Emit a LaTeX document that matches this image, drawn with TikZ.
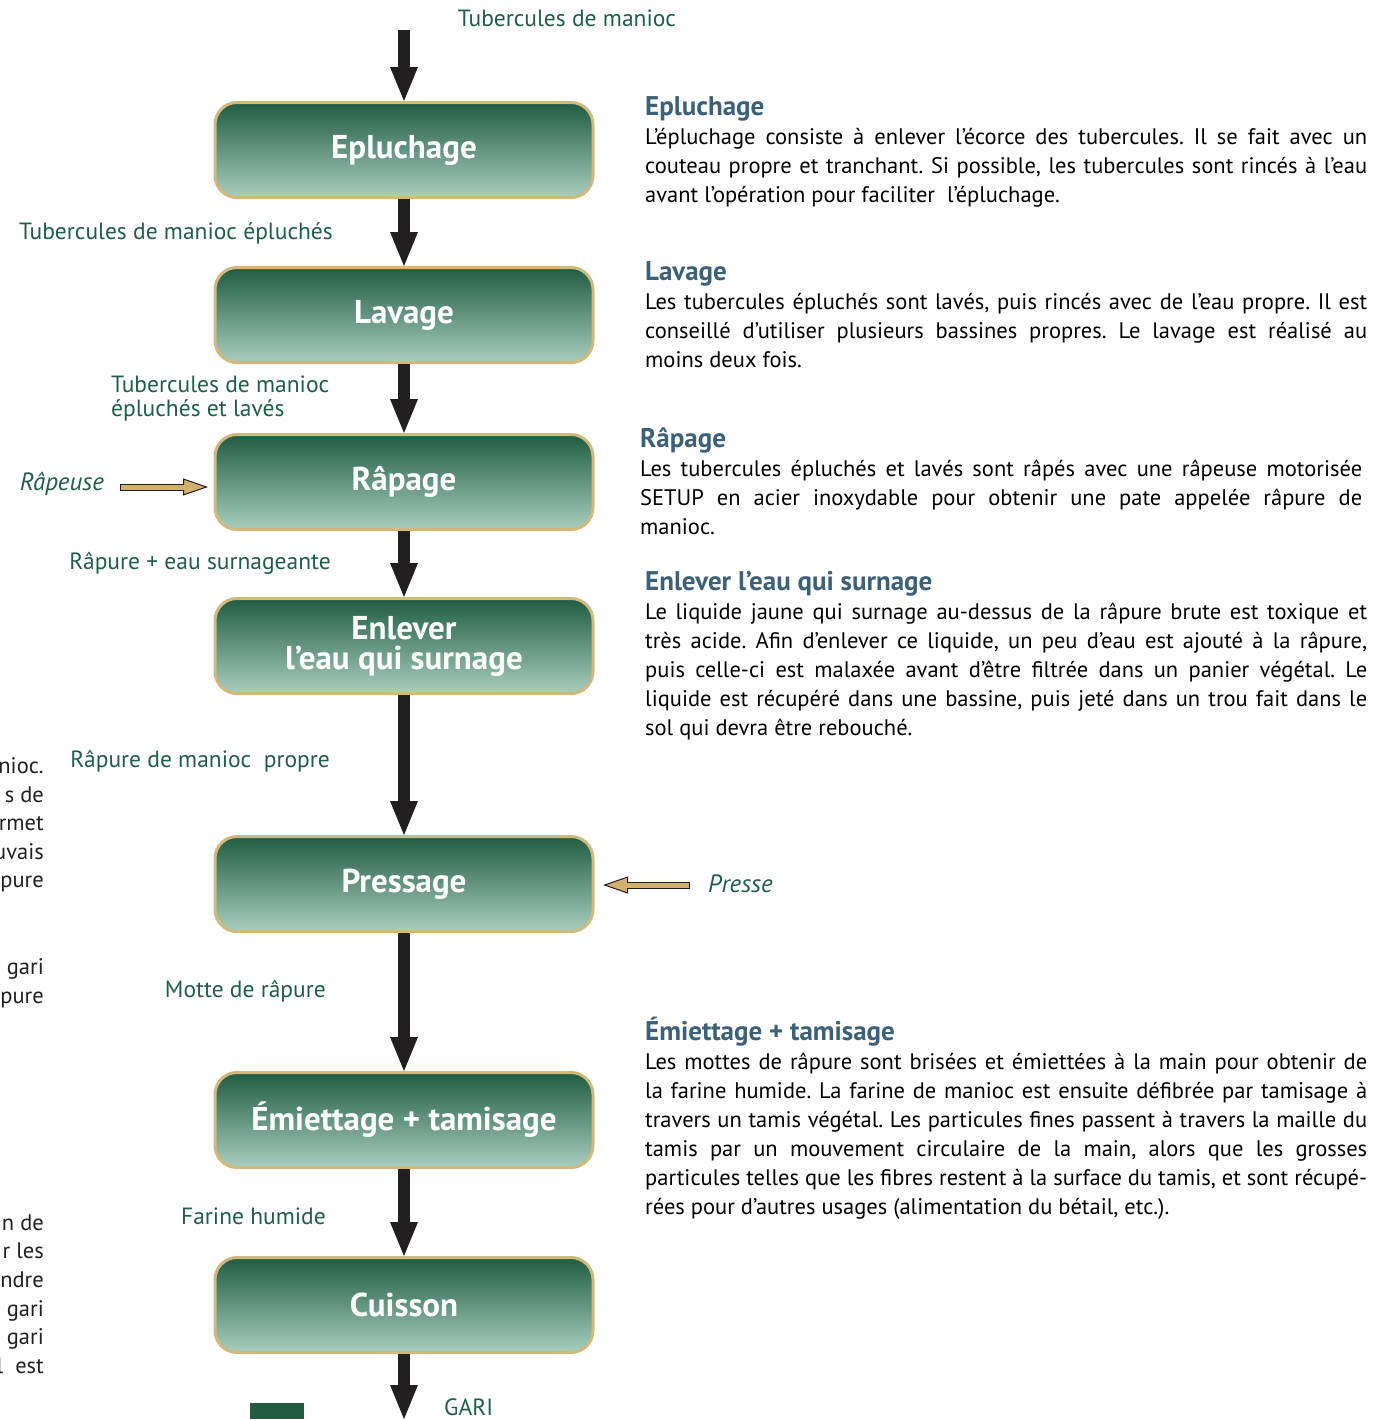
\documentclass[tikz,border=0pt]{standalone}
\usepackage{fontspec}
\setmainfont{PT Sans}
\usetikzlibrary{arrows.meta,positioning,calc}

\definecolor{boxtop}{HTML}{1F5C42}
\definecolor{boxbot}{HTML}{A9CEBE}
\definecolor{boxline}{HTML}{D3B87C}
\definecolor{labgreen}{HTML}{1F5F45}
\definecolor{headblue}{HTML}{3B6079}
\definecolor{tanfill}{HTML}{D2B06E}
\definecolor{ink}{HTML}{231F20}

\tikzset{
  stepbox/.style={rounded corners=22pt, draw=boxline, line width=3pt,
    top color=boxtop, bottom color=boxbot, minimum width=378pt,
    minimum height=95pt, text=white, align=center,
    font=\fontsize{33}{30}\selectfont\bfseries},
  flow/.style={draw=ink, line width=12pt,
    -{Triangle[length=34pt,width=28pt,line width=0pt]}},
  lab/.style={text=labgreen, inner sep=0pt, font=\fontsize{23.5}{24}\selectfont},
  desc/.style={text width=722pt, align=justify, inner sep=0pt, anchor=base west,
    font=\fontsize{22.5}{29}\selectfont},
  frag/.style={text=ink, inner sep=0pt, align=right, anchor=east,
    font=\fontsize{22.5}{28.6}\selectfont},
}
\newcommand\stephead[1]{{\fontsize{27}{29}\selectfont\bfseries\color{headblue}#1}\\}
\newcommand\tanarrow[2]{%
  \draw[ink, line width=1pt, -{Triangle[length=25pt,width=17pt,fill=tanfill,line width=1pt]}] (#1) -- (#2);
  \draw[ink, line width=7pt, shorten >=24pt] (#1) -- (#2);
  \draw[tanfill, line width=5pt, shorten >=23pt, shorten <=1pt] (#1) -- (#2);
}

\begin{document}
\frenchspacing
\begin{tikzpicture}[x=1pt, y=-1pt]
  \useasboundingbox (0,0) rectangle (1379,1419);

  % etapes
  \node[stepbox] (epl) at (404,150) {Epluchage};
  \node[stepbox] (lav) at (404,315) {Lavage};
  \node[stepbox] (rap) at (404,482) {Râpage};
  \node[stepbox] (enl) at (404,646) {Enlever\\l’eau qui surnage};
  \node[stepbox] (pre) at (404,884) {Pressage};
  \node[stepbox] (emi) at (404,1120) {Émiettage + tamisage};
  \node[stepbox] (cui) at (404,1305) {Cuisson};

  \coordinate (in) at (404,30);
  \coordinate (out) at (404,1419);

  % fleches
  \draw[flow] (in) -- (epl.north);
  \draw[flow] (epl) -- (lav);
  \draw[flow] (lav) -- (rap);
  \draw[flow] (rap) -- (enl);
  \draw[flow] (enl) -- (pre);
  \draw[flow] (pre) -- (emi);
  \draw[flow] (emi) -- (cui);
  \draw[flow] (cui) -- (out);

  % produits
  \node[lab] (tub) at (567,18) {Tubercules de manioc};
  \node[lab, anchor=east] (tubep) at (333,233) {Tubercules de manioc épluchés};
  \node[lab, anchor=west, align=left] (tubla) at (111,399) {Tubercules de manioc\\épluchés et lavés};
  \node[lab, anchor=east] (rapeau) at (331,563) {Râpure + eau surnageante};
  \node[lab, anchor=east] (rapro) at (330,761) {Râpure de manioc\ \ propre};
  \node[lab, anchor=east] (motte) at (326,991) {Motte de râpure};
  \node[lab, anchor=east] (farine) at (326,1216) {Farine humide};
  \node[lab, anchor=west] (gari) at (444,1407) {GARI};

  % equipements
  \node[lab, anchor=east, font=\fontsize{25}{26}\selectfont\itshape] (rapeuse) at (104,484) {Râpeuse};
  \node[lab, anchor=west, font=\fontsize{25}{26}\selectfont\itshape] (presse) at (708,884) {Presse};
  \coordinate (rpA) at (120,487);
  \coordinate (rpB) at (208,487);
  \coordinate (prA) at (690,885);
  \coordinate (prB) at (603,885);
  \tanarrow{rpA}{rpB}
  \tanarrow{prA}{prB}

  \fill[boxtop] (250,1403) rectangle (304,1419);

  % descriptions
  \node[desc] (depl) at (645,115) {\stephead{Epluchage}%
    L’épluchage consiste à enlever l’écorce des tubercules. Il se fait avec un\linebreak
    couteau propre et tranchant. Si possible, les tubercules sont rincés à l’eau\linebreak
    avant l’opération pour faciliter\ \ l’épluchage.};
  \node[desc] (dlav) at (645,280) {\stephead{Lavage}%
    Les tubercules épluchés sont lavés, puis rincés avec de l’eau propre. Il est\linebreak
    conseillé d’utiliser plusieurs bassines propres. Le lavage est réalisé au\linebreak
    moins deux fois.};
  \node[desc] (drap) at (640,447) {\stephead{Râpage}%
    Les tubercules épluchés et lavés sont râpés avec une râpeuse motorisée\linebreak
    SETUP en acier inoxydable pour obtenir une pate appelée râpure de\linebreak
    manioc.};
  \node[desc] (denl) at (645,590) {\stephead{Enlever l’eau qui surnage}%
    Le liquide jaune qui surnage au-dessus de la râpure brute est toxique et\linebreak
    très acide. Afin d’enlever ce liquide, un peu d’eau est ajouté à la râpure,\linebreak
    puis celle-ci est malaxée avant d’être filtrée dans un panier végétal. Le\linebreak
    liquide est récupéré dans une bassine, puis jeté dans un trou fait dans le\linebreak
    sol qui devra être rebouché.};
  \node[desc] (demi) at (645,1040) {\stephead{Émiettage + tamisage}%
    Les mottes de râpure sont brisées et émiettées à la main pour obtenir de\linebreak
    la farine humide. La farine de manioc est ensuite défibrée par tamisage à\linebreak
    travers un tamis végétal. Les particules fines passent à travers la maille du\linebreak
    tamis par un mouvement circulaire de la main, alors que les grosses\linebreak
    particules telles que les fibres restent à la surface du tamis, et sont récupé-\linebreak
    rées pour d’autres usages (alimentation du bétail, etc.).};

  % texte coupe a gauche
  \node[frag] (fragA) at (44,825) {nioc.\\s de\\rmet\\uvais\\pure};
  \node[frag] (fragB) at (44,983) {gari\\pure};
  \node[frag] (fragC) at (44,1294) {n de\\r les\\ndre\\gari\\gari\\l\ \ est};
\end{tikzpicture}
\end{document}
